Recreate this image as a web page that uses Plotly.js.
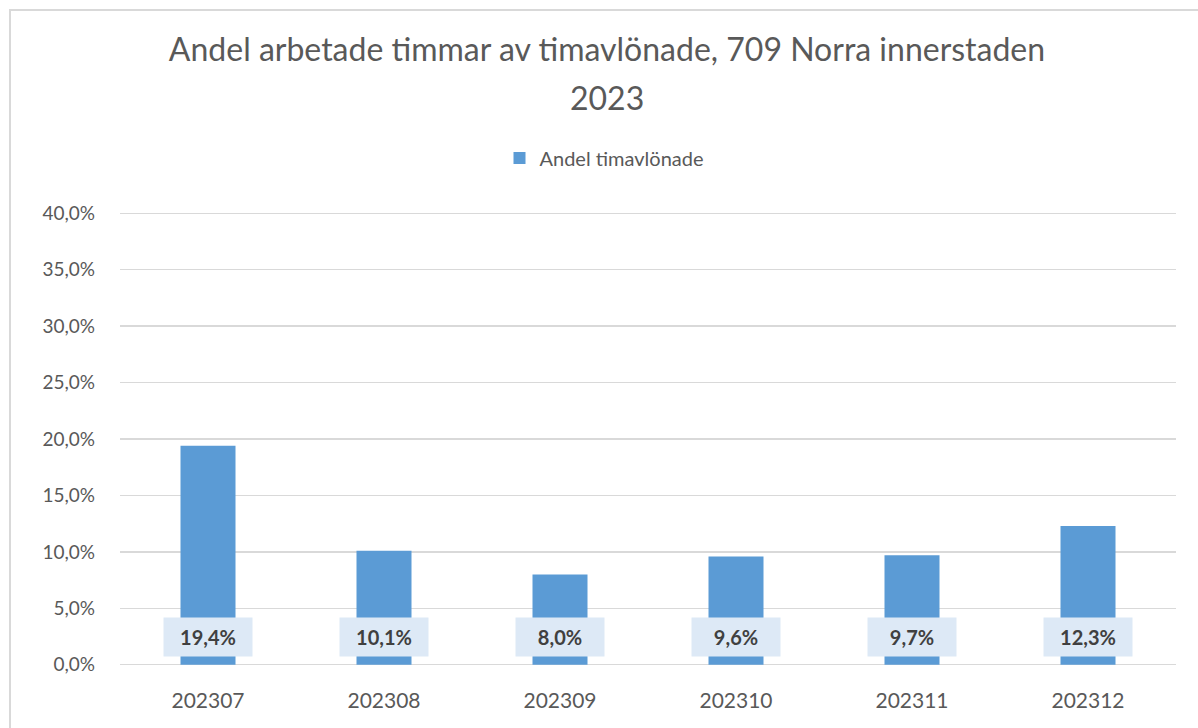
<!DOCTYPE html>
<html>
<head>
<meta charset="utf-8">
<script src="https://cdn.plot.ly/plotly-3.0.1.min.js"></script>
<style>
  html, body { margin: 0; padding: 0; background: #ffffff; }
  #wrap { position: relative; width: 1198px; height: 728px; overflow: hidden; }
  #chart { width: 1198px; height: 728px; }
  #frame { position: absolute; left: 9px; top: 9px; width: 1400px; height: 900px;
           border-left: 2px solid #d9d9d9; border-top: 2px solid #d9d9d9; pointer-events: none; }
</style>
</head>
<body>
<div id="wrap">
  <div id="chart"></div>
  <div id="frame"></div>
</div>
<script>
const titleLine1 = "Andel arbetade timmar av timavlönade, 709 Norra innerstaden";
const titleLine2 = "2023";
const seriesName = "Andel timavlönade";
const categories = ["202307", "202308", "202309", "202310", "202311", "202312"];
const values = [0.194, 0.101, 0.080, 0.096, 0.097, 0.123];
const yTickValues = [0, 0.05, 0.10, 0.15, 0.20, 0.25, 0.30, 0.35, 0.40];

const FONT = "Lato, 'Open Sans', sans-serif";
const labelText = v => (v * 100).toFixed(1).replace('.', ',') + '%';

const W = 1198, H = 728;
const M = { l: 120, r: 22, t: 211, b: 61 };
const plotW = W - M.l - M.r, plotH = H - M.t - M.b;

const trace = {
  type: 'bar',
  x: categories,
  y: values,
  name: seriesName,
  marker: { color: '#5b9bd5' },
  hoverinfo: 'x+y',
  showlegend: true
};

const labelAnnotations = categories.map((c, i) => ({
  x: i, y: 0, xref: 'x', yref: 'y',
  yanchor: 'bottom', xanchor: 'center',
  yshift: 8,
  text: '<b>' + labelText(values[i]) + '</b>',
  showarrow: false,
  bgcolor: '#dde9f6',
  width: 88, height: 38, borderpad: 0,
  font: { family: FONT, size: 20, color: '#404040' }
}));

const layout = {
  width: W, height: H,
  paper_bgcolor: '#ffffff', plot_bgcolor: '#ffffff',
  separators: ', ',
  margin: M,
  title: {
    text: titleLine1,
    font: { family: FONT, size: 32, color: '#595959' },
    xref: 'container', x: 607 / W, xanchor: 'center',
    yref: 'container', y: 1 - 50 / H, yanchor: 'middle'
  },
  bargap: 0.6875,
  xaxis: {
    type: 'category',
    range: [-0.5, categories.length - 0.5],
    showgrid: false, zeroline: false,
    showline: false, ticks: '',
    tickfont: { family: FONT, size: 21, color: '#595959' },
    ticklabelstandoff: 19
  },
  yaxis: {
    range: [-0.002, 0.402],
    tickvals: yTickValues,
    tickformat: '.1%',
    showgrid: true, gridcolor: '#d9d9d9', gridwidth: 1.5,
    zeroline: false, showline: false, ticks: '',
    tickfont: { family: FONT, size: 19, color: '#595959' },
    ticklabelstandoff: 24
  },
  showlegend: true,
  legend: {
    orientation: 'h',
    xref: 'container', x: 604 / W, xanchor: 'center',
    yref: 'container', y: 1 - 158 / H, yanchor: 'middle',
    font: { family: FONT, size: 20, color: '#595959' },
    itemwidth: 30
  },
  annotations: [
    {
      text: titleLine2, showarrow: false,
      xref: 'paper', yref: 'paper',
      x: (607 - M.l) / plotW, y: 1 + (M.t - 97) / plotH,
      xanchor: 'center', yanchor: 'middle',
      font: { family: FONT, size: 32, color: '#595959' }
    }
  ].concat(labelAnnotations)
};

Plotly.newPlot('chart', [trace], layout, { displayModeBar: false, staticPlot: true });
</script>
</body>
</html>
